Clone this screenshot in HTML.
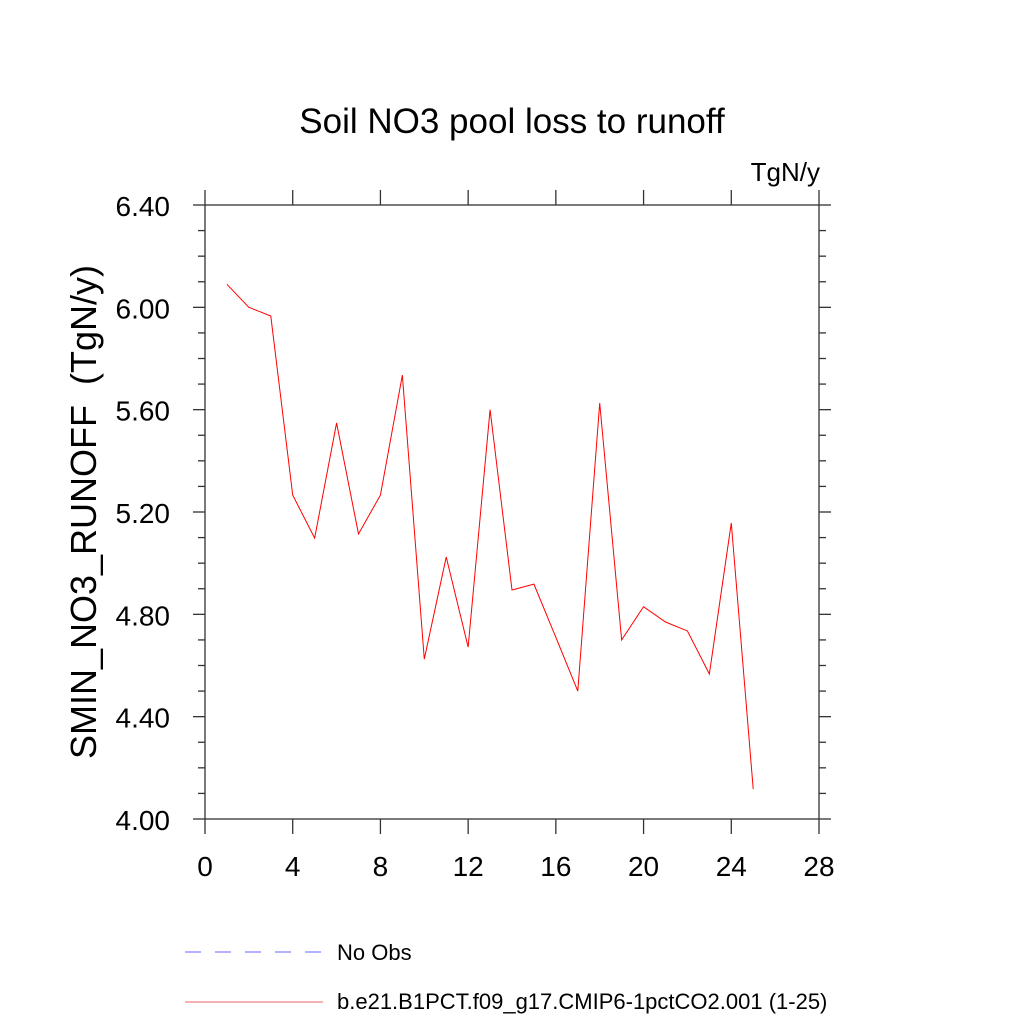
<!DOCTYPE html>
<html><head><meta charset="utf-8"><style>
body{margin:0;background:#fff;}
svg{display:block;font-family:"Liberation Sans",sans-serif;}
</style></head><body>
<svg id="chart" width="1024" height="1024" viewBox="0 0 1024 1024">
<text x="512" y="133" font-size="35" text-anchor="middle">Soil NO3 pool loss to runoff</text>
<text x="820" y="181" font-size="26" text-anchor="end">TgN/y</text>
<text transform="translate(96,512) rotate(-90)" font-size="36" text-anchor="middle">SMIN_NO3_RUNOFF&#160;&#160;(TgN/y)</text>
<g id="axes"></g>
<g id="series"></g>
<g>
<line x1="185" y1="952" x2="322" y2="952" stroke="#6666ff" stroke-width="1" stroke-dasharray="16,14"/>
<text x="337" y="960" font-size="22">No Obs</text>
<line x1="185" y1="1002" x2="323" y2="1002" stroke="#ee6666" stroke-width="1"/>
<text x="337" y="1009" font-size="22">b.e21.B1PCT.f09_g17.CMIP6-1pctCO2.001 (1-25)</text>
</g>
</svg>
<script>
const years=[1,2,3,4,5,6,7,8,9,10,11,12,13,14,15,16,17,18,19,20,21,22,23,24,25];
const values=[6.09,6.0,5.966,5.266,5.098,5.548,5.114,5.266,5.735,4.625,5.024,4.672,5.60,4.895,4.918,4.71,4.50,5.626,4.70,4.83,4.77,4.735,4.567,5.157,4.117];
const xTicks=[0,4,8,12,16,20,24,28];
const yTicks=[4.0,4.4,4.8,5.2,5.6,6.0,6.4];
const L=205,R=819,T=205,B=819,xmin=0,xmax=28,ymin=4.0,ymax=6.4;
const xs=v=>L+(v-xmin)/(xmax-xmin)*(R-L);
const ys=v=>B-(v-ymin)/(ymax-ymin)*(B-T);
const NS="http://www.w3.org/2000/svg";
const ax=document.getElementById('axes');
function ln(x1,y1,x2,y2,name){const e=document.createElementNS(NS,'line');e.setAttribute('x1',x1);e.setAttribute('y1',y1);e.setAttribute('x2',x2);e.setAttribute('y2',y2);e.setAttribute('stroke','#333');e.setAttribute('stroke-width','1.3');


ax.appendChild(e);return e;}
const fr=document.createElementNS(NS,'rect');fr.setAttribute('x',L);fr.setAttribute('y',T);fr.setAttribute('width',R-L);fr.setAttribute('height',B-T);fr.setAttribute('fill','none');fr.setAttribute('stroke','#333');fr.setAttribute('stroke-width','1.3');


ax.appendChild(fr);
xTicks.forEach(t=>{const x=xs(t);ln(x,B,x,B+15,'x-tick');ln(x,T,x,T-15,'x-tick-top');
const tx=document.createElementNS(NS,'text');tx.setAttribute('x',x);tx.setAttribute('y',B+57);tx.setAttribute('font-size','28');tx.setAttribute('text-anchor','middle');tx.textContent=t;


ax.appendChild(tx);});
for(let i=0;i<=24;i++){const v=ymin+i*0.1;const y=ys(v);const major=i%4===0;const len=major?12:7;
ln(L-len,y,L,y,major?'y-tick':'y-minor-tick');ln(R,y,R+len,y,major?'y-tick-right':'y-minor-tick-right');}
yTicks.forEach(t=>{const tx=document.createElementNS(NS,'text');tx.setAttribute('x',L-35);tx.setAttribute('y',ys(t)+11);tx.setAttribute('font-size','28');tx.setAttribute('text-anchor','end');tx.textContent=t.toFixed(2);


ax.appendChild(tx);});
const p=document.createElementNS(NS,'polyline');
p.setAttribute('points',years.map((y,i)=>xs(y)+','+ys(values[i])).join(' '));
p.setAttribute('fill','none');p.setAttribute('stroke','#ff0000');p.setAttribute('stroke-width','1');


document.getElementById('series').appendChild(p);
</script>
</body></html>
